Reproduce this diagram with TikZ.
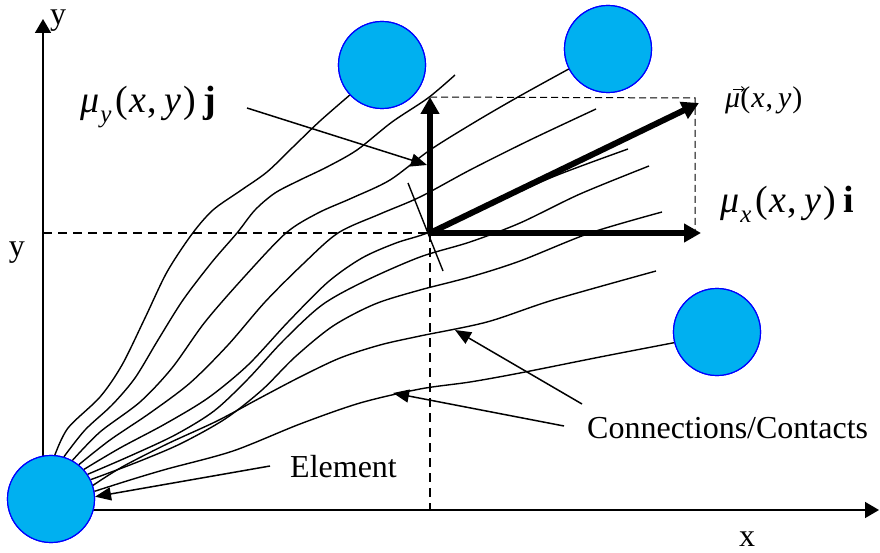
\documentclass[tikz,border=0pt]{standalone}
\usepackage{fontspec}
\setmainfont{Liberation Serif}
\usetikzlibrary{arrows.meta}
\definecolor{elemfill}{HTML}{00B0F0}
\definecolor{elemdraw}{HTML}{0000FF}
\tikzset{
 elem/.style={circle, fill=elemfill, draw=elemdraw, line width=1.2pt, minimum size=87pt, inner sep=0pt},
 conn/.style={line width=1.4pt, line join=round},
 axis/.style={line width=1.5pt, -{Triangle[length=14pt,width=16pt]}},
 guide/.style={line width=1.3pt, dash pattern=on 9pt off 6pt},
 guidethin/.style={line width=1pt, dash pattern=on 7pt off 4pt},
 vecarr/.style={line width=6pt, -{Triangle[length=17pt,width=18pt]}},
 pointer/.style={line width=1.5pt, -{Triangle[length=16pt,width=13pt]}},
 lab/.style={inner sep=0pt, font=\fontsize{32}{38}\selectfont},
 mlab/.style={inner sep=0pt, font=\fontsize{38}{42}\selectfont},
}
\begin{document}
\begin{tikzpicture}[x=1pt,y=-1pt]
\useasboundingbox (0,0) rectangle (880,553);
% coordinates
\coordinate (org) at (43,510);
\coordinate (ytip) at (43,19);
\coordinate (xtip) at (879,510);
\coordinate (O) at (430,233);
\coordinate (yl) at (43,233);
\coordinate (xl) at (430,510);
\coordinate (vy) at (430,97);
\coordinate (vx) at (701,233);
\coordinate (vm) at (699,103);
\coordinate (cr) at (695,98);
\coordinate (cb) at (695,233);
\coordinate (t1) at (408,183);
\coordinate (t2) at (443,271);
% axes and guides
\draw[axis] (org) -- (ytip);
\draw[axis] (org) -- (xtip);
\draw[guide] (yl) -- (O);
\draw[guide] (O) -- (xl);
\draw[guidethin] (vy) -- (cr) -- (cb);
% circles (nodes)
\node[elem] (el) at (51,499) {};
\node[elem] (c1) at (382,65) {};
\node[elem] (c2) at (608,49) {};
\node[elem] (c3) at (717,332) {};
% connections
\draw[conn] plot[smooth] coordinates {(el.85) (68,428) (100,397) (122,365) (145,318) (167,272) (192,234) (213,210) (240,191) (267,172) (293,147) (320,121) (c1.223)};
\draw[conn] plot[smooth] coordinates {(el.73) (85,430) (112,405) (135,378) (158,340) (183,300) (212,262) (237,233) (255,210) (275,193) (300,180) (327,167) (357,150) (392,122) (428,98) (455,75)};
\draw[conn] plot[smooth] coordinates {(el.61) (100,432) (140,402) (172,368) (205,322) (245,276) (286,233) (318,213) (352,198) (390,180) (430,150) (475,122) (518,97) (c2.207)};
\draw[conn] plot[smooth] coordinates {(el.51) (110,440) (150,413) (190,383) (228,345) (265,302) (303,264) (338,233) (380,214) (420,197) (470,170) (530,140) (596,109)};
\draw[conn] plot[smooth] coordinates {(el.42) (120,448) (165,424) (208,398) (248,365) (288,322) (328,282) (362,258) (396,243) (430,232) (490,205) (555,176) (628,149)};
\draw[conn] plot[smooth] coordinates {(el.34) (130,456) (175,435) (214,411) (248,379) (283,341) (322,305) (365,281) (420,257) (470,242) (520,223) (580,194) (649,166)};
\draw[conn] plot[smooth] coordinates {(el.26) (135,463) (180,444) (225,419) (262,390) (295,357) (333,326) (375,304) (420,290) (470,277) (520,261) (590,233) (662,212)};
\draw[conn] plot[smooth] coordinates {(el.18) (122,467) (167,444) (217,421) (260,398) (300,377) (340,358) (380,345) (420,336) (487,322) (553,300) (656,271)};
\draw[conn] plot[smooth] coordinates {(el.10) (130,480) (167,469) (233,451) (300,424) (360,403) (420,389) (470,382) (520,373) (600,357) (c3.194)};
% redraw circles on top
\node[elem] at (el) {};
\node[elem] at (c1) {};
\node[elem] at (c2) {};
\node[elem] at (c3) {};
% tick
\draw[conn] (t1) -- (t2);
% thick vectors
\draw[vecarr] (O) -- (vy);
\draw[vecarr] (O) -- (vx);
\draw[vecarr] (O) -- (vm);
% labels
\node[lab, anchor=base] (ylab) at (58,25) {y};
\node[lab, anchor=base] (yval) at (17,256) {y};
\node[lab, anchor=base] (xlab) at (747,546) {x};
\node[lab, anchor=base west] (elab) at (290,477) {Element};
\node[lab, anchor=base west] (clab) at (587,438) {Connections/Contacts};
\node[mlab, anchor=base west] (muy) at (80,113) {\textit{μ}\kern1pt\raisebox{-10pt}{\fontsize{25}{25}\selectfont\itshape y}\kern4pt(\kern1pt\textit{x}\kern2pt,\kern7pt\textit{y}\kern2pt)\kern8pt\textbf{j}};
\node[mlab, anchor=base west] (mux) at (720,213) {\textit{μ}\kern1pt\raisebox{-10pt}{\fontsize{25}{25}\selectfont\itshape x}\kern4pt(\kern1pt\textit{x}\kern2pt,\kern7pt\textit{y}\kern2pt)\kern8pt\textbf{i}};
\node[anchor=base west, inner sep=0pt, font=\fontsize{30}{33}\selectfont] (muv) at (725,108) {\textit{μ}(\kern1pt\textit{x}\kern1pt,\kern5pt\textit{y}\kern1pt)};
\draw[line width=0.9pt, -{Straight Barb[length=3pt,width=5pt]}] ([shift={(8,-19)}]muv.base west) -- ([shift={(20,-19)}]muv.base west);
% pointers
\coordinate (muys) at (247,108);
\coordinate (muyt) at (427,165);
\coordinate (elps) at (270,466);
\coordinate (cp1s) at (582,404);
\coordinate (cp1t) at (455,330);
\coordinate (cp2s) at (564,426);
\coordinate (cp2t) at (393,393);
\draw[pointer] (muys) -- (muyt);
\draw[pointer] (elps) -- (el.3);
\draw[pointer] (cp1s) -- (cp1t);
\draw[pointer] (cp2s) -- (cp2t);
\end{tikzpicture}
\end{document}
